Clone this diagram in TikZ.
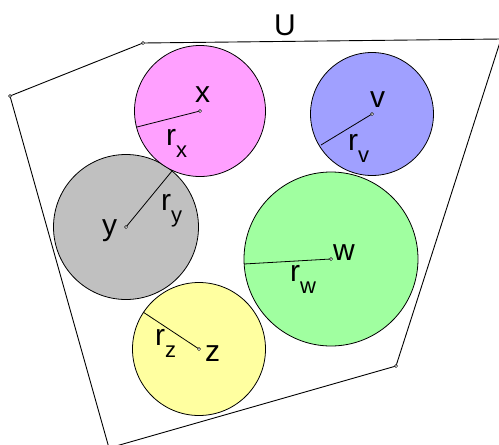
\documentclass[tikz,border=0pt]{standalone}
\usepackage{fontspec}
\setmainfont{Liberation Sans}
\definecolor{cpink}{HTML}{FFA0FF}
\definecolor{cblue}{HTML}{A0A0FF}
\definecolor{cgray}{HTML}{C0C0C0}
\definecolor{cgreen}{HTML}{A0FFA0}
\definecolor{cyellow}{HTML}{FFFFA0}
\newcommand{\rlab}[1]{r\raisebox{-12pt}{\fontsize{22}{22}\selectfont #1}}
\begin{document}
\begin{tikzpicture}[x=1pt,y=-1pt,
  disc/.style={draw=black,line width=0.8pt},
  pt/.style={circle,draw=black,fill=white,line width=0.5pt,inner sep=0pt,minimum size=3.2pt},
  lab/.style={inner sep=0pt,anchor=base west,font=\fontsize{30}{30}\selectfont},
  rad/.style={line width=0.8pt}]
\useasboundingbox (0,0) rectangle (499,445);
\begin{scope}
\clip (0,0) rectangle (499,445);
% polygon U
\coordinate (p1) at (143,43);
\coordinate (p2) at (501,39);
\coordinate (p3) at (396,366);
\coordinate (p4) at (109,448);
\coordinate (p5) at (10,96);
\draw[line width=0.9pt] (p1) -- (p2) -- (p3) -- (p4) -- (p5) -- cycle;
\end{scope}
\node[pt] (q1) at (p1) {};
\node[pt] (q3) at (p3) {};
\node[pt] (q5) at (p5) {};
\node[lab] (U) at (274,35) {U};
% circles
\coordinate (cx) at (200,111);
\coordinate (cv) at (372,114);
\coordinate (cy) at (126,227);
\coordinate (cw) at (331,259);
\coordinate (cz) at (199,349);
\draw[disc,fill=cgray] (cy) circle (72.5);
\draw[disc,fill=cpink] (cx) circle (65.5);
\draw[disc,fill=cblue] (cv) circle (61.5);
\draw[disc,fill=cgreen] (cw) circle (87);
\draw[disc,fill=cyellow] (cz) circle (66.5);
% radii
\coordinate (ex) at (137,127);
\coordinate (ev) at (321,145);
\coordinate (ey) at (172,171);
\coordinate (ew) at (244,264);
\coordinate (ez) at (143,312);
\draw[rad] (cx) -- (ex);
\draw[rad] (cv) -- (ev);
\draw[rad] (cy) -- (ey);
\draw[rad] (cw) -- (ew);
\draw[rad] (cz) -- (ez);
\node[pt] (dx) at (cx) {};
\node[pt] (dv) at (cv) {};
\node[pt] (dy) at (cy) {};
\node[pt] (dw) at (cw) {};
\node[pt] (dz) at (cz) {};
% labels
\node[lab] (lx) at (195,102) {x};
\node[lab] (lv) at (370,107) {v};
\node[lab] (ly) at (102,235) {y};
\node[lab] (lw) at (333,260) {w};
\node[lab] (lz) at (205,361) {z};
\node[lab] (rx) at (166,145) {\rlab{x}};
\node[lab] (rv) at (348,150) {\rlab{v}};
\node[lab] (ry) at (161,210) {\rlab{y}};
\node[lab] (rw) at (290,281) {\rlab{w}};
\node[lab] (rz) at (155,345) {\rlab{z}};
\end{tikzpicture}
\end{document}
